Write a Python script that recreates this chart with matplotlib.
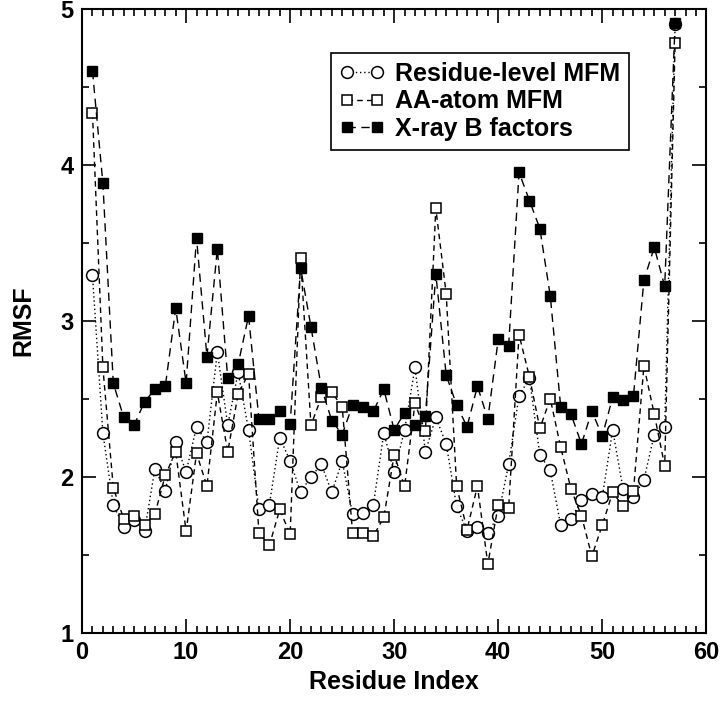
import matplotlib
matplotlib.use("Agg")
import matplotlib.pyplot as plt
from matplotlib.ticker import MultipleLocator

plt.rcParams['font.family'] = ['Liberation Sans', 'DejaVu Sans']
plt.rcParams['font.weight'] = 'bold'

residue = list(range(1, 58))

residue_mfm = [3.29, 2.28, 1.82, 1.68, 1.72, 1.65, 2.05, 1.91, 2.22, 2.03,
               2.32, 2.22, 2.80, 2.33, 2.67, 2.30, 1.79, 1.82, 2.25, 2.10,
               1.90, 2.00, 2.08, 1.90, 2.10, 1.76, 1.77, 1.82, 2.28, 2.03,
               2.30, 2.70, 2.16, 2.38, 2.21, 1.81, 1.65, 1.68, 1.64, 1.75,
               2.08, 2.52, 2.63, 2.14, 2.04, 1.69, 1.73, 1.85, 1.89, 1.87,
               2.30, 1.92, 1.87, 1.98, 2.27, 2.32, 4.90]

aa_mfm = [4.33, 2.70, 1.93, 1.73, 1.75, 1.69, 1.76, 2.01, 2.16, 1.65,
          2.15, 1.94, 2.54, 2.16, 2.53, 2.66, 1.64, 1.56, 1.79, 1.63,
          3.40, 2.33, 2.51, 2.54, 2.45, 1.64, 1.64, 1.62, 1.74, 2.14,
          1.94, 2.47, 2.29, 3.72, 3.17, 1.94, 1.66, 1.94, 1.44, 1.82,
          1.80, 2.91, 2.64, 2.31, 2.50, 2.19, 1.92, 1.75, 1.49, 1.69,
          1.90, 1.81, 1.91, 2.71, 2.40, 2.07, 4.78]

xray_b = [4.60, 3.88, 2.60, 2.38, 2.33, 2.48, 2.56, 2.58, 3.08, 2.60,
          3.53, 2.77, 3.46, 2.63, 2.72, 3.03, 2.37, 2.37, 2.42, 2.34,
          3.34, 2.96, 2.57, 2.36, 2.27, 2.46, 2.45, 2.42, 2.56, 2.30,
          2.41, 2.33, 2.39, 3.30, 2.65, 2.46, 2.32, 2.58, 2.37, 2.88,
          2.84, 3.95, 3.77, 3.59, 3.16, 2.45, 2.40, 2.21, 2.42, 2.26,
          2.51, 2.49, 2.52, 3.26, 3.47, 3.22, 4.91]

fig = plt.figure(figsize=(7.2, 7.15), dpi=100)
ax = fig.add_axes([0.114, 0.115, 0.867, 0.873])

ax.plot(residue, residue_mfm, color='black', linestyle=(0, (1, 2)), linewidth=1,
        marker='o', markersize=8.5, markerfacecolor='white', markeredgecolor='black',
        markeredgewidth=1.1, label='Residue-level MFM', zorder=2)
ax.plot(residue, aa_mfm, color='black', linestyle=(0, (4, 3)), linewidth=1,
        marker='s', markersize=7.5, markerfacecolor='white', markeredgecolor='black',
        markeredgewidth=1.1, label='AA-atom MFM', zorder=3)
ax.plot(residue, xray_b, color='black', linestyle=(0, (6, 4)), linewidth=1,
        marker='s', markersize=7.5, markerfacecolor='black', markeredgecolor='black',
        label='X-ray B factors', zorder=4)

ax.set_xlim(0, 60)
ax.set_ylim(1, 5)
ax.xaxis.set_major_locator(MultipleLocator(10))
ax.xaxis.set_minor_locator(MultipleLocator(1))
ax.yaxis.set_major_locator(MultipleLocator(1))
ax.yaxis.set_minor_locator(MultipleLocator(0.5))
ax.tick_params(which='both', direction='in', top=True, right=True, width=1.2)
ax.tick_params(which='major', length=10, labelsize=17, pad=6)
ax.tick_params(which='minor', length=5)
for s in ax.spines.values():
    s.set_linewidth(1.5)

ax.set_xlabel('Residue Index', fontsize=18, fontweight='bold', labelpad=4)
ax.set_ylabel('RMSF', fontsize=18, fontweight='bold', labelpad=18)

leg = ax.legend(loc='upper left', bbox_to_anchor=(0.399, 0.929), fontsize=18,
                numpoints=2, handlelength=1.8, handletextpad=0.4, labelspacing=0.15,
                borderpad=0.35, borderaxespad=0, fancybox=False,
                edgecolor='black', framealpha=1)
leg.get_frame().set_linewidth(1.2)

fig.savefig('out.png', dpi=100)
